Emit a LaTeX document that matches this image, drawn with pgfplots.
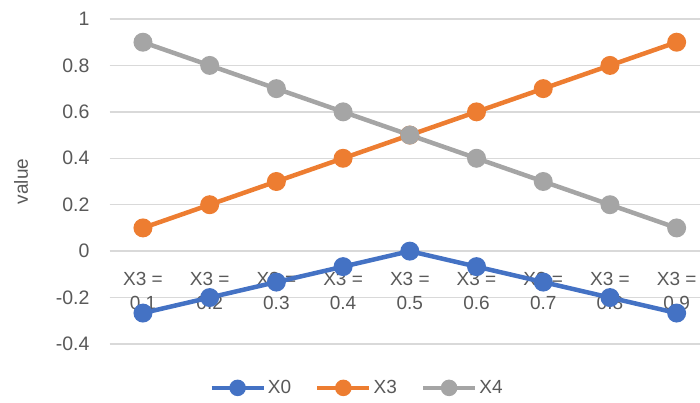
\documentclass[border=0pt]{standalone}
\usepackage{pgfplots}
\pgfplotsset{compat=1.18}
\usepackage{fontspec}
\setmainfont{Liberation Sans}
\definecolor{sblue}{HTML}{4472C4}
\definecolor{sorange}{HTML}{ED7D31}
\definecolor{sgray}{HTML}{A5A5A5}
\definecolor{txt}{HTML}{595959}
\definecolor{gridc}{HTML}{D9D9D9}

\pgfplotstableread{
x  X0       X3   X4
0  -0.2667  0.1  0.9
1  -0.2     0.2  0.8
2  -0.1333  0.3  0.7
3  -0.0667  0.4  0.6
4   0       0.5  0.5
5  -0.0667  0.6  0.4
6  -0.1333  0.7  0.3
7  -0.2     0.8  0.2
8  -0.2667  0.9  0.1
}\datatable

\begin{document}
\begin{tikzpicture}
\useasboundingbox (0,0) rectangle (700pt,403pt);
\begin{axis}[
  at={(109.6pt,59pt)}, anchor=south west,
  scale only axis, width=590.4pt, height=325pt,
  xmin=-0.5, xmax=8.35, ymin=-0.4, ymax=1,
  axis x line=middle, axis y line=left,
  axis line style={draw=none},
  major tick length=0pt,
  ytick={-0.4,-0.2,0,0.2,0.4,0.6,0.8,1},
  ymajorgrids, grid style={gridc, line width=1.3pt},
  xtick={0,...,8},
  xticklabels={X3 =\\0.1,X3 =\\0.2,X3 =\\0.3,X3 =\\0.4,X3 =\\0.5,X3 =\\0.6,X3 =\\0.7,X3 =\\0.8,X3 =\\0.9},
  xticklabel style={align=center, anchor=north, inner sep=0pt, yshift=-21pt,
    font=\fontsize{19}{24}\selectfont, text=txt},
  yticklabel style={anchor=east, inner sep=0pt, xshift=-20pt,
    font=\fontsize{19.5}{23}\selectfont, text=txt},
  /pgf/number format/assume math mode=true,
  yticklabel={\pgfmathprintnumber[fixed,precision=1]{\tick}},
  ylabel={value},
  ylabel style={at={(axis description cs:-0.150,0.5)}, anchor=center,
    font=\fontsize{19}{23}\selectfont, text=txt},
  clip=false,
  legend columns=3,
  legend style={at={(0.419,-0.135)}, anchor=center, draw=none, fill=none,
    font=\fontsize{19}{23}\selectfont, text=txt,
    /tikz/every even column/.append style={column sep=22pt},
    inner sep=0pt, nodes={inner sep=2pt}},
  legend image code/.code={
    \draw[mark repeat=2, mark phase=2, mark size=6pt, #1] plot coordinates {(0pt,0pt) (26pt,0pt) (52pt,0pt)};
  },
  every axis plot/.append style={line width=4.5pt, mark=*, mark size=7.2pt},
]
\addplot[sblue, mark options={solid, fill=sblue, draw=none}] table[x=x, y=X0] {\datatable};
\addlegendentry{X0}
\addplot[sorange, mark options={solid, fill=sorange, draw=none}] table[x=x, y=X3] {\datatable};
\addlegendentry{X3}
\addplot[sgray, mark options={solid, fill=sgray, draw=none}] table[x=x, y=X4] {\datatable};
\addlegendentry{X4}
\end{axis}
\end{tikzpicture}
\end{document}
